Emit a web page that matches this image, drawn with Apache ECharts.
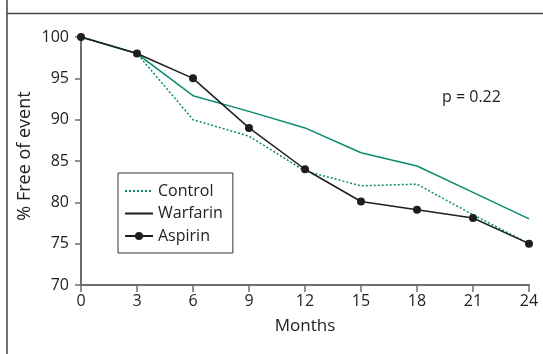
<!DOCTYPE html>
<html>
<head>
<meta charset="utf-8">
<script src="https://cdn.jsdelivr.net/npm/echarts@6/dist/echarts.min.js"></script>
<style>
  html, body { margin: 0; padding: 0; background: #fff; }
</style>
</head>
<body>
<div id="chart" style="width:543px;height:354px;"></div>
<script>
// months on the x axis
var months = [0, 3, 6, 9, 12, 15, 18, 21, 24];
// % free of event
var control  = [100, 98, 90, 88, 83.8, 82, 82.2, 78.5, 75];
var warfarin = [100, 98, 92.9, 91, 89, 86, 84.4, 81.2, 78];
var aspirin  = [100, 98, 95, 89, 84, 80.1, 79.1, 78.1, 75];
var yTitle = '% Free of event';
var pText = 'p = 0.22';

var green = '#0b8a72';
var dark = '#1e1e1e';
var axisGrey = '#6e6e6e';
var font = 'Open Sans';
var fs = 16;

function pairs(vals) {
  return months.map(function (m, i) { return [m, vals[i]]; });
}

var myChart = echarts.init(document.getElementById('chart'));
myChart.setOption({
  backgroundColor: '#fff',
  animation: false,
  textStyle: { fontFamily: font },
  grid: { left: 81, right: 14, top: 37, bottom: 69 },
  legend: {
    left: 118,
    top: 173,
    orient: 'vertical',
    padding: [10, 10, 9, 6],
    itemWidth: 28,
    itemHeight: 10,
    itemGap: 6.5,
    borderColor: '#333',
    borderWidth: 1,
    borderRadius: 0,
    textStyle: { fontFamily: font, fontSize: fs, color: '#222' },
    data: [
      { name: 'Control', itemStyle: { opacity: 0 } },
      { name: 'Warfarin', itemStyle: { opacity: 0 }, lineStyle: { color: dark } },
      { name: 'Aspirin' }
    ]
  },
  xAxis: {
    type: 'value',
    min: 0,
    max: 24,
    interval: 3,
    name: 'Months',
    nameLocation: 'middle',
    nameGap: 33,
    nameTextStyle: { fontFamily: font, fontSize: 17, color: '#222' },
    axisLine: { show: true, lineStyle: { color: axisGrey, width: 2 } },
    axisTick: { show: true, length: 7, lineStyle: { color: axisGrey, width: 1.5 } },
    axisLabel: { margin: 8, fontFamily: font, fontSize: fs, color: '#222' },
    splitLine: { show: false }
  },
  yAxis: {
    type: 'value',
    min: 70,
    max: 100,
    interval: 5,
    axisLine: { show: true, lineStyle: { color: axisGrey, width: 2 } },
    axisTick: { show: true, length: 6, lineStyle: { color: axisGrey, width: 1.5 } },
    axisLabel: { margin: 12, fontFamily: font, fontSize: fs, color: '#222' },
    splitLine: { show: false }
  },
  graphic: [
    // frame of the panel
    { type: 'line', shape: { x1: 7, y1: 0, x2: 7, y2: 354 }, style: { stroke: '#444', lineWidth: 1.5 } },
    { type: 'line', shape: { x1: 7, y1: 13.5, x2: 543, y2: 13.5 }, style: { stroke: '#444', lineWidth: 1.5 } },
    {
      type: 'text', x: 25, y: 156, rotation: Math.PI / 2,
      style: { text: yTitle, font: '18px "Open Sans"', fill: '#222', align: 'center', verticalAlign: 'middle' }
    },
    { type: 'text', left: 442, top: 89, style: { text: pText, font: fs + 'px "Open Sans"', fill: '#222' } }
  ],
  series: [
    {
      name: 'Control',
      type: 'line',
      data: pairs(control),
      symbol: 'none',
      lineStyle: { color: green, width: 1.5, type: [2, 2] },
      itemStyle: { color: green },
      z: 2
    },
    {
      name: 'Warfarin',
      type: 'line',
      data: pairs(warfarin),
      symbol: 'none',
      lineStyle: { color: green, width: 1.5 },
      itemStyle: { color: dark },
      z: 3
    },
    {
      name: 'Aspirin',
      type: 'line',
      data: pairs(aspirin),
      symbol: 'circle',
      symbolSize: 8,
      lineStyle: { color: dark, width: 1.5 },
      itemStyle: { color: dark },
      z: 4
    }
  ]
});
</script>
</body>
</html>
